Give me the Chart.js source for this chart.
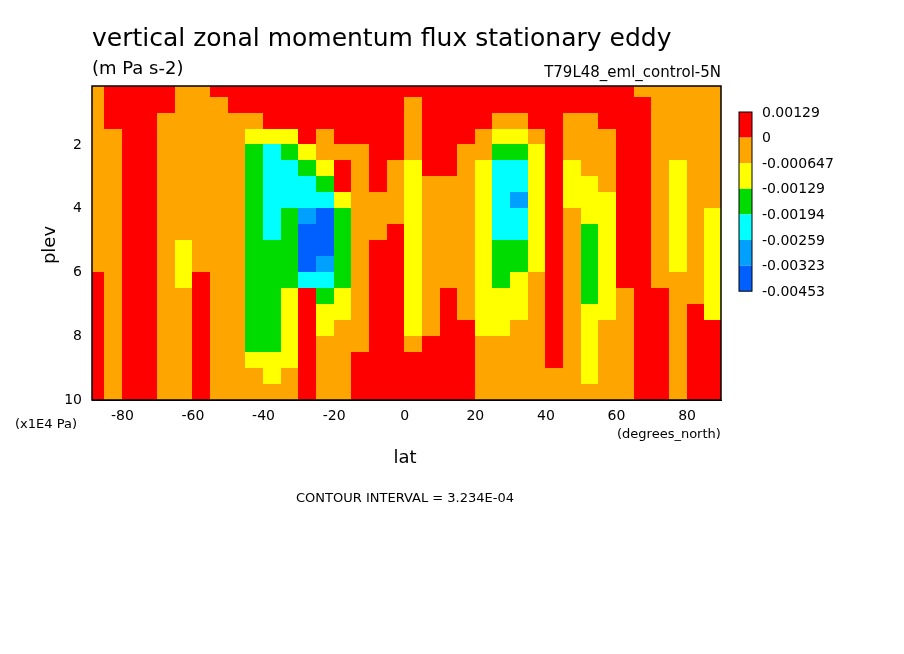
<!DOCTYPE html>
<html><head><meta charset="utf-8">
<script src="https://cdn.jsdelivr.net/npm/chart.js@4"></script>
<style>html,body{margin:0;background:#fff}#c{display:block}</style>
</head><body>
<div style="width:904px;height:654px"><canvas id="c" width="904" height="654"></canvas></div>
<script>
// Latitude cell centres (degrees north), 5° wide
const lats = [-87.5,-82.5,-77.5,-72.5,-67.5,-62.5,-57.5,-52.5,-47.5,-42.5,-37.5,-32.5,-27.5,-22.5,-17.5,-12.5,-7.5,-2.5,2.5,7.5,12.5,17.5,22.5,27.5,32.5,37.5,42.5,47.5,52.5,57.5,62.5,67.5,72.5,77.5,82.5,87.5];
// Pressure-level cell centres (x1E4 Pa), 0.5 wide
const plevs = [0.25,0.75,1.25,1.75,2.25,2.75,3.25,3.75,4.25,4.75,5.25,5.75,6.25,6.75,7.25,7.75,8.25,8.75,9.25,9.75];
// Codes: 1 >0 ; 0 0..-0.000647 ; 2 ..-0.00129 ; 3 ..-0.00194 ; 4 ..-0.00259 ; 5 ..-0.00323 ; 6 ..-0.00453
// one string per latitude column, one character per plev row (top -> bottom)
const levelCols = [
 "00000000000011111111", // -87.5
 "11100000000000000000", // -82.5
 "11111111111111111111", // -77.5
 "11111111111111111111", // -72.5
 "11000000000000000000", // -67.5
 "00000000002220000000", // -62.5
 "00000000000011111111", // -57.5
 "10000000000000000000", // -52.5
 "11000000000000000000", // -47.5
 "11023333333333333200", // -42.5
 "11124444443333333220", // -37.5
 "11123444333332222200", // -32.5
 "11112344566641111111", // -27.5
 "11100234666543220000", // -22.5
 "11110112333332200000", // -17.5
 "11110000000000000111", // -12.5
 "11111110001111111111", // -7.5
 "11111000011111111111", // -2.5
 "10000222222222220111", // 2.5
 "11111100000000001111", // 7.5
 "11111100000001111111", // 12.5
 "11110000000000011111", // 17.5
 "11100222222222220000", // 22.5
 "11023444443332220000", // 27.5
 "11023445443322200000", // 32.5
 "11102222222200000000", // 37.5
 "11111111111111111100", // 42.5
 "11000222000000000000", // 47.5
 "11000022233333222220", // 52.5
 "11100002222222200000", // 57.5
 "11111111111110000000", // 62.5
 "01111111111111111111", // 67.5
 "00000000000001111111", // 72.5
 "00000222222200000000", // 77.5
 "00000000000000111111", // 82.5
 "00000000222222211111"  // 87.5
];
const legendLabels = ["0.00129","0","-0.000647","-0.00129","-0.00194","-0.00259","-0.00323","-0.00453"];
const colors = ["#ff0000","#ffa500","#ffff00","#00dc00","#00ffff","#00a0ff","#0060ff"];
const codeToColor = [1,0,2,3,4,5,6];
const xTicks = [-80,-60,-40,-20,0,20,40,60,80];
const yTicks = [2,4,6,8,10];

const cellPlugin = {
  id:'cells',
  beforeDatasetsDraw(chart){
    const {ctx, scales:{x,y}, chartArea:a} = chart;
    ctx.save();
    ctx.beginPath(); ctx.rect(a.left,a.top,a.width,a.height); ctx.clip();
    lats.forEach((l,c)=>{
      plevs.forEach((p,r)=>{
        const k = codeToColor[+levelCols[c][r]];
        const x0 = x.getPixelForValue(l-2.5), x1 = x.getPixelForValue(l+2.5);
        const y0 = y.getPixelForValue(p-0.25), y1 = y.getPixelForValue(p+0.25);
        ctx.fillStyle = colors[k];
        ctx.fillRect(Math.floor(x0),Math.floor(y0),Math.ceil(x1-x0)+1,Math.ceil(y1-y0)+1);
      });
    });
    ctx.restore();
  },
  afterDraw(chart){
    const {ctx, chartArea:a} = chart;
    ctx.save();
    ctx.strokeStyle='#000'; ctx.lineWidth=1.5;
    ctx.strokeRect(a.left,a.top,a.width,a.height);
    ctx.fillStyle='#000';
    ctx.textBaseline='alphabetic';
    ctx.font='25px "DejaVu Sans"'; ctx.textAlign='left';
    ctx.fillText('vertical zonal momentum flux stationary eddy',92,46);
    ctx.font='18px "DejaVu Sans"';
    ctx.fillText('(m Pa s-2)',92,74);
    ctx.font='15px "DejaVu Sans"'; ctx.textAlign='right';
    ctx.fillText('T79L48_eml_control-5N',721,77);
    ctx.textAlign='left'; ctx.font='13px "DejaVu Sans"';
    ctx.fillText('(x1E4 Pa)',15,428);
    ctx.fillText('(degrees_north)',617,438);
    ctx.font='18px "DejaVu Sans"'; ctx.textAlign='center';
    ctx.fillText('lat',405,463);
    ctx.save(); ctx.translate(55,245); ctx.rotate(-Math.PI/2); ctx.fillText('plev',0,0); ctx.restore();
    ctx.font='13px "DejaVu Sans"';
    ctx.fillText('CONTOUR INTERVAL = 3.234E-04',405,502);
    // colour bar
    const bx=739,bw=13,top=112,h=25.6;
    colors.forEach((c,i)=>{ctx.fillStyle=c;ctx.fillRect(bx,top+i*h,bw,h);});
    ctx.strokeStyle='#000';ctx.lineWidth=1;ctx.strokeRect(bx,top,bw,h*colors.length);
    ctx.fillStyle='#000';ctx.textAlign='left';ctx.textBaseline='middle';ctx.font='14px "DejaVu Sans"';
    legendLabels.forEach((t,i)=>ctx.fillText(t,762,top+1+i*h));
    ctx.restore();
  }
};

new Chart(document.getElementById('c'),{
  type:'scatter',
  data:{datasets:[{data:[],pointRadius:0}]},
  options:{
    responsive:false, animation:false, devicePixelRatio:1,
    layout:{padding:{left:0,top:86,right:183,bottom:224}},
    plugins:{legend:{display:false},tooltip:{enabled:false}},
    scales:{
      x:{type:'linear',min:-88.6,max:89.6,afterFit(s){s.height=30;},
        afterBuildTicks(s){s.ticks=xTicks.map(v=>({value:v}));},
        grid:{display:false,drawTicks:true,tickLength:6,color:'#000'},
        border:{color:'#000'},
        ticks:{color:'#000',font:{family:'DejaVu Sans',size:14},padding:2,maxRotation:0}},
      y:{type:'linear',reverse:true,min:0.15,max:10,afterFit(s){s.width=92;},
        afterBuildTicks(s){s.ticks=yTicks.map(v=>({value:v}));},
        grid:{display:false,drawTicks:true,tickLength:6,color:'#000'},
        border:{color:'#000'},
        ticks:{color:'#000',font:{family:'DejaVu Sans',size:14},padding:4}}
    }
  },
  plugins:[cellPlugin]
});
</script>
</body></html>
